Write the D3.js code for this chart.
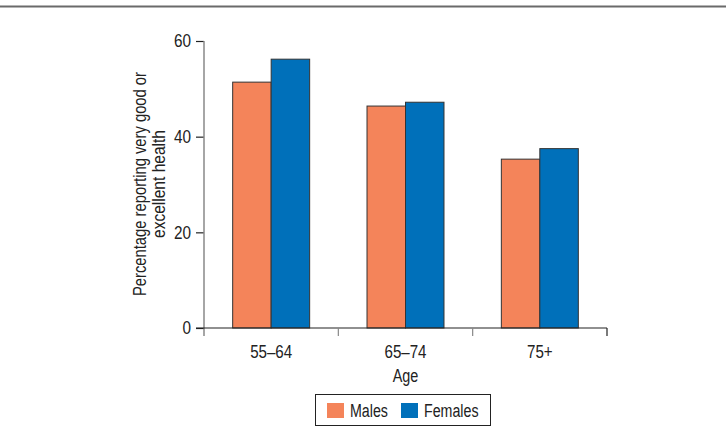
<!DOCTYPE html>
<html>
<head>
<meta charset="utf-8">
<script src="https://cdn.jsdelivr.net/npm/d3@7"></script>
<style>
  html, body { margin: 0; padding: 0; background: #fff; }
  svg { display: block; }
  text { font-family: "Liberation Sans", Arial, sans-serif; fill: #222; }
</style>
</head>
<body>
<svg id="chart" width="726" height="442"></svg>
<script>
const categories = ["55\u201364", "65\u201374", "75+"];
const seriesNames = ["Males", "Females"];
const males = [51.4, 46.4, 35.3];
const females = [56.2, 47.2, 37.5];
const yTicks = [0, 20, 40, 60];
const colors = ["#F4845A", "#0070BA"];

const svg = d3.select("#chart");
const mLeft = 204, mRight = 607, mTop = 41, mBottom = 328;

// emulate a condensed face by squeezing glyphs horizontally
function condense(sel, factor) {
  sel.each(function () {
    const w = this.getComputedTextLength();
    d3.select(this).attr("textLength", w * factor).attr("lengthAdjust", "spacingAndGlyphs");
  });
}

// top rule
svg.append("line").attr("x1", 0).attr("x2", 726).attr("y1", 6.5).attr("y2", 6.5)
  .attr("stroke", "#6a6a6a").attr("stroke-width", 2);

const x0 = d3.scaleBand().domain(categories).range([mLeft, mRight]).padding(0);
const x1 = d3.scaleBand().domain(seriesNames).range([0, x0.bandwidth()]).paddingInner(0).paddingOuter(0.745);
const y = d3.scaleLinear().domain([0, 60]).range([mBottom, mTop]);

const data = categories.map((c, i) => ({ cat: c, values: [males[i], females[i]] }));

// bars
const g = svg.append("g");
data.forEach(d => {
  d.values.forEach((v, j) => {
    g.append("rect")
      .attr("x", x0(d.cat) + x1(seriesNames[j]))
      .attr("y", y(v))
      .attr("width", x1.bandwidth())
      .attr("height", y(0) - y(v))
      .attr("fill", colors[j])
      .attr("stroke", "#333")
      .attr("stroke-width", 1);
  });
});

// y axis
const yAxis = svg.append("g").attr("transform", `translate(${mLeft},0)`)
  .call(d3.axisLeft(y).tickValues(yTicks).tickSize(8).tickSizeOuter(0).tickPadding(5));
yAxis.select(".domain").remove();
yAxis.selectAll(".tick line").attr("stroke", "#222").attr("stroke-width", 1.2);
yAxis.selectAll(".tick text").attr("font-size", 18)
  .attr("font-family", "'Liberation Sans', Arial, sans-serif").attr("fill", "#222");
condense(yAxis.selectAll(".tick text"), 0.85);
svg.append("line").attr("x1", mLeft).attr("x2", mLeft).attr("y1", y(60)).attr("y2", mBottom + 8)
  .attr("stroke", "#888").attr("stroke-width", 1.5);

// x axis
svg.append("line").attr("x1", mLeft - 8).attr("x2", mRight).attr("y1", mBottom).attr("y2", mBottom)
  .attr("stroke", "#222").attr("stroke-width", 1.2);
const bounds = categories.map(c => x0(c)).concat([x0(categories[categories.length - 1]) + x0.step()]);
bounds.forEach((bx, i) => {
  if (i === 0) return;
  svg.append("line").attr("x1", bx).attr("x2", bx).attr("y1", mBottom).attr("y2", mBottom + 8)
    .attr("stroke", i === bounds.length - 1 ? "#222" : "#888").attr("stroke-width", 1.2);
});
const xl = svg.append("g").selectAll("text").data(categories).join("text")
  .attr("x", c => x0(c) + x0.bandwidth() / 2).attr("y", 358)
  .attr("text-anchor", "middle").attr("font-size", 18).text(c => c);
condense(xl, 0.84);

// axis titles
const ageT = svg.append("text").attr("x", (mLeft + mRight) / 2).attr("y", 382)
  .attr("text-anchor", "middle").attr("font-size", 18).text("Age");
condense(ageT, 0.8);
const yt = svg.append("text").attr("transform", `translate(146,184) rotate(-90)`)
  .attr("text-anchor", "middle").attr("font-size", 18);
yt.append("tspan").attr("x", 0).attr("dy", 0).text("Percentage reporting very good or")
  .attr("textLength", 224).attr("lengthAdjust", "spacingAndGlyphs");
yt.append("tspan").attr("x", 0).attr("dy", 18.5).text("excellent health")
  .attr("textLength", 108).attr("lengthAdjust", "spacingAndGlyphs");

// legend
const lg = svg.append("g");
lg.append("rect").attr("x", 315.5).attr("y", 394.5).attr("width", 175).attr("height", 31)
  .attr("fill", "#fff").attr("stroke", "#222").attr("stroke-width", 1);
const legX = [327, 401];
seriesNames.forEach((s, j) => {
  lg.append("rect").attr("x", legX[j]).attr("y", 403).attr("width", 17).attr("height", 15)
    .attr("fill", colors[j]);
  const t = lg.append("text").attr("x", legX[j] + 23).attr("y", 417).attr("font-size", 18).text(s);
  condense(t, 0.79);
});
</script>
</body>
</html>
